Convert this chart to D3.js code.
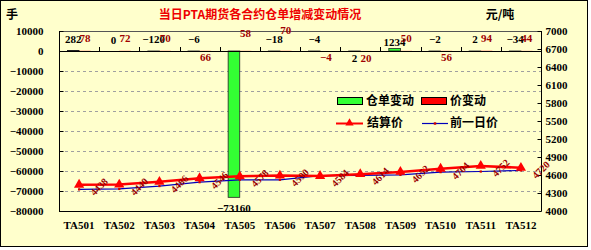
<!DOCTYPE html>
<html><head><meta charset="utf-8">
<script src="https://cdn.jsdelivr.net/npm/d3@7"></script>
<style>
html,body{margin:0;padding:0;background:#fff;}
svg{display:block;}
</style></head>
<body>
<svg id="c" width="591" height="250"></svg>
<script>
// ---- data ----
const categories = ["TA501","TA502","TA503","TA504","TA505","TA506","TA507","TA508","TA509","TA510","TA511","TA512"];
const warrantChange = [282, 0, -120, -6, -73160, -18, -4, 2, 1234, -2, 2, -34];
const priceChange = [78, 72, 70, 66, 58, 70, -4, 20, 50, 56, 94, 44];
const settlePrice = [4438, 4440, 4486, 4546, 4578, 4590, 4584, 4614, 4652, 4704, 4752, 4720];
const prevPrice = [4360, 4368, 4416, 4480, 4520, 4520, 4588, 4594, 4602, 4648, 4658, 4676];
const leftTicks = [10000, 0, -10000, -20000, -30000, -40000, -50000, -60000, -70000, -80000];
const rightTicks = [7000, 6700, 6400, 6100, 5800, 5500, 5200, 4900, 4600, 4300, 4000];
const title = "当日PTA期货各合约仓单增减变动情况";

// ---- layout / style config ----
const L = 59, R = 541, T = 31, B = 211;
const bg = "#ffffcc";
const numFont = "'Liberation Serif', 'DejaVu Serif', serif";
const cjkFont = "'Noto Sans CJK SC', sans-serif";
// label vertical centres (px) for the bar value labels
const warrantLabelY = i => (i === 7 ? 58 : (i === 1 ? 40 : (i === 8 ? 42 : 39)));
const priceLabelY = i => ({3:57, 4:33, 5:30, 6:57, 7:58, 9:57}[i] || 38);

const svg = d3.select("#c");
svg.append("rect").attr("x",0.5).attr("y",0.5).attr("width",587).attr("height",246)
  .attr("fill",bg).attr("stroke","#000");

const x = d3.scaleBand().domain(categories).range([L, R]).paddingInner(0).paddingOuter(0);
const xs = d3.scaleBand().domain(["w","p"]).range([0, x.bandwidth()]).paddingInner(0).paddingOuter(0.73);
const yL = d3.scaleLinear().domain([-80000, 10000]).range([B, T]);
const yR = d3.scaleLinear().domain([4000, 7000]).range([B, T]);

// gridlines
svg.append("g").selectAll("line").data(leftTicks.filter(v => v < 0 && v > -80000)).join("line")
  .attr("x1", L).attr("x2", R).attr("y1", d => yL(d)+0.5).attr("y2", d => yL(d)+0.5)
  .attr("stroke","#a0a0a0").attr("stroke-dasharray","3,3");

// frame top/bottom
svg.append("line").attr("x1",L).attr("x2",R).attr("y1",T+0.5).attr("y2",T+0.5).attr("stroke","#555");
svg.append("line").attr("x1",L).attr("x2",R).attr("y1",B+0.5).attr("y2",B+0.5).attr("stroke","#000");

// bars
const g = svg.append("g");
g.selectAll("rect.w").data(warrantChange).join("rect").attr("class","w")
  .attr("x",(d,i)=> x(categories[i]) + xs("w"))
  .attr("width", xs.bandwidth())
  .attr("y", d => Math.min(yL(0), yL(d)))
  .attr("height", d => Math.abs(yL(d)-yL(0)))
  .attr("fill","#33ff33").attr("stroke","#222").attr("stroke-width",0.8);
g.selectAll("rect.p").data(priceChange).join("rect").attr("class","p")
  .attr("x",(d,i)=> x(categories[i]) + xs("p"))
  .attr("width", xs.bandwidth())
  .attr("y", d => Math.min(yL(0), yL(d)))
  .attr("height", d => Math.abs(yL(d)-yL(0)))
  .attr("fill","#ff0000");

// x axis at zero
svg.append("line").attr("x1",L).attr("x2",R).attr("y1",yL(0)+0.5).attr("y2",yL(0)+0.5).attr("stroke","#000");
svg.append("g").selectAll("line").data(categories.slice(1)).join("line")
  .attr("x1", d => Math.round(x(d))+0.5).attr("x2", d => Math.round(x(d))+0.5)
  .attr("y1", yL(0)).attr("y2", yL(0)-4).attr("stroke","#000");

// left axis
const ax = svg.append("g").attr("transform",`translate(${L+0.5},0)`)
  .call(d3.axisLeft(yL).tickValues(leftTicks).tickSize(-4).tickPadding(16).tickFormat(d3.format("d")));
ax.select(".domain").attr("d", `M0,${T}V${B+0.5}`);
// right axis
const ar = svg.append("g").attr("transform",`translate(${R+0.5},0)`)
  .call(d3.axisRight(yR).tickValues(rightTicks).tickSize(-4).tickPadding(4).tickFormat(d3.format("d")));
ar.select(".domain").attr("d", `M0,${T}V${B+0.5}`);
[ax, ar].forEach(a => {
  a.selectAll("text").attr("font-family", numFont).attr("font-weight","bold").attr("font-size",11).attr("fill","#000")
    .text(d => String(d).replace("-", "\u2212"));
  a.selectAll("line,path").attr("stroke","#000");
});
// category axis labels
const ab = svg.append("g").attr("transform",`translate(0,${B})`)
  .call(d3.axisBottom(x).tickSize(0).tickPadding(10));
ab.select(".domain").remove();
ab.selectAll("text").attr("font-family", numFont).attr("font-weight","bold").attr("font-size",11).attr("fill","#000");

// lines
const lineFn = d3.line().x((d,i)=> x(categories[i]) + x.bandwidth()/2);
svg.append("path").datum(prevPrice).attr("fill","none").attr("stroke","#0000bb").attr("stroke-width",1.2)
  .attr("d", lineFn.y(d => yR(d)));
svg.append("g").selectAll("path").data(prevPrice).join("path")
  .attr("transform",(d,i)=>`translate(${x(categories[i]) + x.bandwidth()/2},${yR(d)})`)
  .attr("d", d3.symbol(d3.symbolSquare, 5)).attr("fill","#cc0000");
svg.append("path").datum(settlePrice).attr("fill","none").attr("stroke","#ff0000").attr("stroke-width",2.5)
  .attr("d", d3.line().x((d,i)=> x(categories[i]) + x.bandwidth()/2).y(d => yR(d)));
svg.append("g").selectAll("path").data(settlePrice).join("path")
  .attr("transform",(d,i)=>`translate(${x(categories[i]) + x.bandwidth()/2},${yR(d)})`)
  .attr("d", d3.symbol(d3.symbolTriangle, 45)).attr("fill","#ff0000");

// price labels (rotated)
svg.append("g").selectAll("text").data(settlePrice).join("text")
  .attr("transform",(d,i)=>`translate(${x(categories[i]) + x.bandwidth()/2 + 20},${yR(d)+2}) rotate(-45)`)
  .attr("text-anchor","middle").attr("dy","0.35em")
  .attr("font-family", numFont).attr("font-weight","bold").attr("font-size",10).attr("fill","#990000")
  .text(d => d);

// bar value labels
svg.append("g").selectAll("text").data(warrantChange).join("text")
  .attr("x",(d,i)=> x(categories[i]) + xs("w") + xs.bandwidth()/2)
  .attr("y",(d,i)=> i === 4 ? yL(d) + 11 : warrantLabelY(i))
  .attr("dy","0.35em").attr("text-anchor","middle")
  .attr("font-family", numFont).attr("font-weight","bold").attr("font-size",11).attr("fill","#000")
  .text(d => String(d).replace("-", "\u2212"));
svg.append("g").selectAll("text").data(priceChange).join("text")
  .attr("x",(d,i)=> x(categories[i]) + xs("p") + xs.bandwidth()/2)
  .attr("y",(d,i)=> priceLabelY(i))
  .attr("dy","0.35em").attr("text-anchor","middle")
  .attr("font-family", numFont).attr("font-weight","bold").attr("font-size",11).attr("fill","#a00000")
  .text(d => String(d).replace("-", "\u2212"));

// titles
svg.append("text").attr("x",260).attr("y",15).attr("dy","0.35em").attr("text-anchor","middle")
  .attr("font-family", cjkFont).attr("font-weight","bold").attr("font-size",12).attr("fill","#ee0000").text(title);
svg.append("text").attr("x",12).attr("y",15).attr("dy","0.35em").attr("text-anchor","middle")
  .attr("font-family", cjkFont).attr("font-weight","bold").attr("font-size",12).attr("fill","#000").text("手");
svg.append("text").attr("x",500).attr("y",15).attr("dy","0.35em").attr("text-anchor","middle")
  .attr("font-family", cjkFont).attr("font-weight","bold").attr("font-size",12).attr("fill","#000").text("元/吨");

// legend
const lg = svg.append("g");
const legText = (tx, ty, t) => lg.append("text").attr("x",tx).attr("y",ty).attr("dy","0.35em")
  .attr("font-family", cjkFont).attr("font-weight","bold").attr("font-size",12).attr("fill","#000").text(t);
lg.append("rect").attr("x",337.5).attr("y",97.5).attr("width",25).attr("height",7).attr("fill","#33ff33").attr("stroke","#000");
legText(366, 101, "仓单变动");
lg.append("rect").attr("x",421.5).attr("y",97.5).attr("width",25).attr("height",7).attr("fill","#ff0000").attr("stroke","#000");
legText(450, 101, "价变动");
lg.append("line").attr("x1",336).attr("x2",363).attr("y1",123.5).attr("y2",123.5).attr("stroke","#ff0000").attr("stroke-width",2);
lg.append("path").attr("transform","translate(349.5,123)").attr("d", d3.symbol(d3.symbolTriangle, 30)).attr("fill","#ff0000");
legText(367, 123, "结算价");
lg.append("line").attr("x1",422).attr("x2",448).attr("y1",123.5).attr("y2",123.5).attr("stroke","#0000bb").attr("stroke-width",1.2);
lg.append("path").attr("transform","translate(435,123.5)").attr("d", d3.symbol(d3.symbolSquare, 6)).attr("fill","#cc0000");
legText(450, 123, "前一日价");
</script>
</body></html>
